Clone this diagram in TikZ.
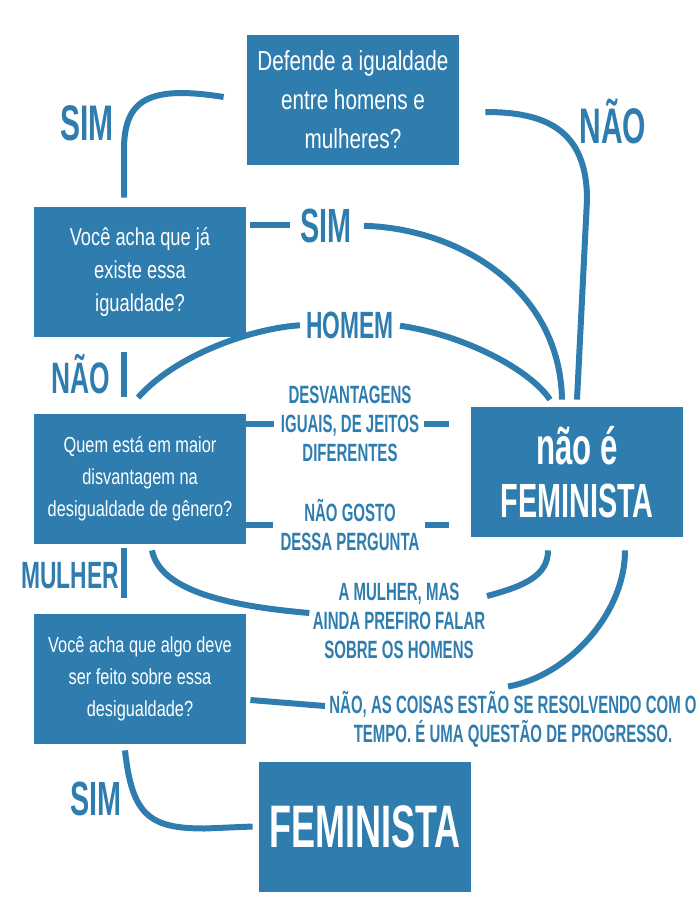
\documentclass[tikz,border=0pt]{standalone}
\usepackage{fontspec}
\usepackage{tikz}
\newfontfamily\qfont{Liberation Sans}[FakeStretch=0.75]
\newfontfamily\ansfont{Liberation Sans}[FakeStretch=0.6]
\definecolor{femblue}{RGB}{47,125,175}

\begin{document}
\begin{tikzpicture}[x=0.5pt, y=-0.5pt,
    qbox/.style={fill=femblue, text=white, align=center, inner sep=0pt,
                 minimum width=106pt, minimum height=65pt},
    ans/.style={text=femblue, align=center, inner sep=0pt,
                font=\ansfont\bfseries\fontsize{12.5}{14.5}\selectfont},
    bigans/.style={text=femblue, inner sep=0pt, anchor=base,
                   font=\ansfont\bfseries\fontsize{#1}{#1}\selectfont},
    conn/.style={femblue, line width=3pt}]
    \useasboundingbox (0,0) rectangle (700,900);

    %% question boxes
    \node[qbox, font={\qfont\fontsize{13.8}{19.5}\selectfont}] (q1) at (353,100)
      {Defende a igualdade\\entre homens e\\mulheres?};
    \node[qbox, font={\qfont\fontsize{12.2}{16.3}\selectfont}] (q2) at (140,272)
      {Você acha que já\\existe essa\\igualdade?};
    \node[qbox, font={\qfont\fontsize{10.9}{16}\selectfont}] (q3) at (140,479)
      {Quem está em maior\\disvantagem na\\desigualdade de gênero?};
    \node[qbox, font={\qfont\fontsize{10.9}{16}\selectfont}] (q4) at (140,679)
      {Você acha que algo deve\\ser feito sobre essa\\desigualdade?};

    %% the two ends
    \node[qbox, font={\ansfont\bfseries\fontsize{24}{26.5}\selectfont}] (nao) at (577,472)
      {{\fontsize{26}{26.5}\selectfont não é}\\FEMINISTA};
    \node[qbox, font={\ansfont\bfseries\fontsize{30}{30}\selectfont}] (fem) at (365,826.5)
      {FEMINISTA};

    %% answers
    \node[bigans=25] (simA) at (87,140) {SIM};
    \node[bigans=25] (naoA) at (613,143) {NÃO};
    \node[bigans=24] (simB) at (326,242) {SIM};
    \node[bigans=19] (homem) at (350,338) {HOMEM};
    \node[bigans=22] (naoB) at (81,393) {NÃO};
    \node[bigans=19] (mulher) at (70,588) {MULHER};
    \node[bigans=24] (simC) at (96,815) {SIM};
    \node[ans] (desv) at (350,423.5) {DESVANTAGENS\\IGUAIS, DE JEITOS\\DIFERENTES};
    \node[ans] (gosto) at (350,525) {NÃO GOSTO\\DESSA PERGUNTA};
    \node[ans] (amulher) at (399,621) {A MULHER, MAS\\AINDA PREFIRO FALAR\\SOBRE OS HOMENS};
    \node[ans] (naoC) at (513,719)
      {NÃO, AS COISAS ESTÃO SE RESOLVENDO COM O\\TEMPO. É UMA QUESTÃO DE PROGRESSO.};

    %% step 1 — defende?
    \draw[conn] ([shift={(-23,-3)}]q1.west) .. controls +(-75,-12) and +(0,-50) .. ([shift={(-16,-57)}]q2.north)
      -- ([shift={(-16,-9)}]q2.north);
    \draw[conn] ([shift={(26,12)}]q1.east) .. controls +(60,0) and +(0,-70) .. ([shift={(10,-207)}]nao.north)
      -- ([shift={(0,-7)}]nao.north);

    %% step 2 — já existe?
    \draw[conn, shorten <=2pt, shorten >=5pt] (q2.east |- simB.west) -- (simB.west);
    \draw[conn, shorten <=6pt] (simB.east) .. controls +(108,3) and +(-2,-110) .. ([shift={(-15,-7)}]nao.north);
    \draw[conn] ([shift={(-16,15)}]q2.south) -- ([shift={(-16,-17)}]q3.north);

    %% step 3 — quem?
    \draw[conn, shorten >=3pt] ([shift={(-2,-16)}]q3.north) .. controls +(40,-45) and +(-50,3) .. (homem.west);
    \draw[conn, shorten <=3pt] (homem.east) .. controls +(70,10) and +(-20,-30) .. ([shift={(-27,-7)}]nao.north);
    \draw[conn, shorten >=3.5pt] (q3.east |- desv) -- (desv.west);
    \draw[conn, shorten <=2.5pt, shorten >=11pt] (desv.east) -- (nao.west |- desv);
    \draw[conn, shorten >=3.5pt] (q3.east |- gosto) -- (gosto.west);
    \draw[conn, shorten <=2.5pt, shorten >=11pt] (gosto.east) -- (nao.west |- gosto);
    \draw[conn] ([shift={(12,6)}]q3.south) .. controls +(8,40) and +(-82,-7) .. ([shift={(-3,-8)}]amulher.west);
    \draw[conn] ([shift={(88,-25)}]amulher.center) .. controls +(38,-10) and +(0,25) .. ([shift={(-29,13)}]nao.south);
    \draw[conn] ([shift={(-16,4)}]q3.south) -- ([shift={(-16,-16)}]q4.north);

    %% step 4 — algo deve ser feito?
    \draw[conn] ([shift={(4,21)}]q4.east) -- ([shift={(-4,-13)}]naoC.west);
    \draw[conn] ([shift={(48,13)}]nao.south) .. controls +(0,65) and +(58,-10) .. ([shift={(-5,-4)}]naoC.north);
    \draw[conn] ([shift={(-15,6)}]q4.south) .. controls +(7,65) and +(-55,0) .. ([shift={(-54,2)}]fem.west)
      -- ([shift={(-6,0)}]fem.west);
\end{tikzpicture}
\end{document}
